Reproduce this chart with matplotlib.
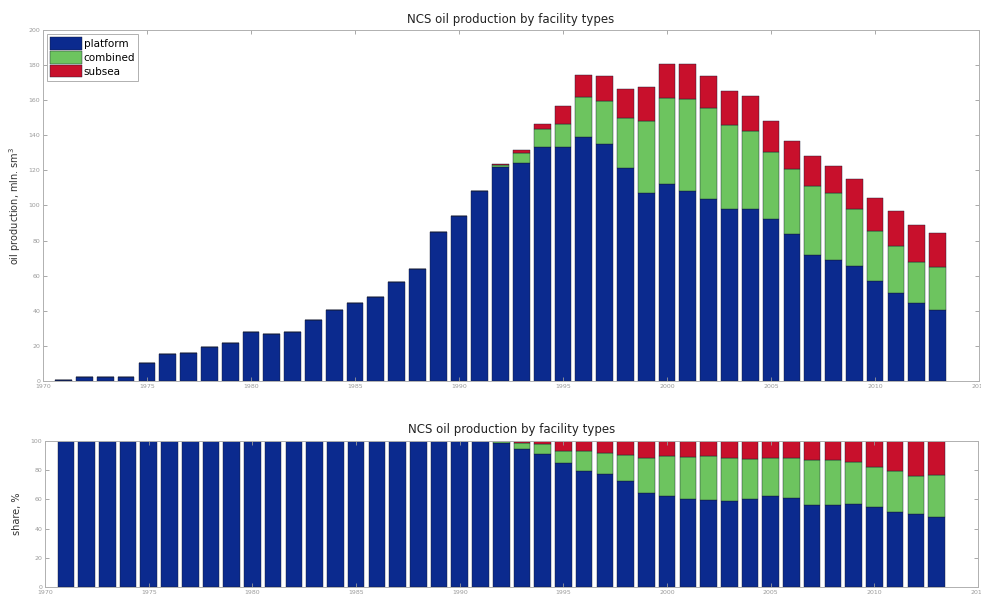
import numpy as np
import matplotlib
matplotlib.use("Agg")
from matplotlib import pyplot as plt

years = np.arange(1971, 2014)

# oil production, mln. sm3, by facility type
platform = [0.6, 2.0, 2.0, 2.0, 10.1, 15.4, 15.8, 19.5, 21.6, 27.7,
            26.8, 27.7, 34.8, 40.5, 44.3, 48.0, 56.4, 64.0, 85.1, 93.8,
            108.1, 122.1, 124.4, 133.5, 133.5, 139.2, 134.9, 121.2, 107.3, 112.3,
            108.3, 103.9, 97.8, 97.8, 92.1, 83.6, 71.6, 68.9, 65.5, 57.1,
            50.0, 44.3, 40.5]
combined = [0, 0, 0, 0, 0, 0, 0, 0, 0, 0,
            0, 0, 0, 0, 0, 0, 0, 0, 0, 0,
            0, 1.0, 5.7, 9.9, 12.8, 22.8, 24.5, 28.8, 40.8, 49.1,
            52.2, 51.8, 48.1, 44.7, 38.6, 37.0, 39.7, 38.0, 32.7, 28.4,
            26.9, 23.7, 24.3]
subsea = [0, 0, 0, 0, 0, 0, 0, 0, 0, 0,
          0, 0, 0, 0, 0, 0, 0, 0, 0, 0,
          0, 0.4, 1.5, 2.9, 10.4, 12.5, 14.6, 16.4, 19.2, 19.1,
          20.1, 18.3, 19.5, 20.1, 17.6, 16.0, 16.9, 15.8, 16.7, 18.8,
          20.1, 21.1, 19.7]

names = ["platform", "combined", "subsea"]
colors = ["#0b2a8e", "#6dc45f", "#c8102c"]

p = np.array(platform)
c = np.array(combined)
s = np.array(subsea)
tot = p + c + s
shares = [100 * p / tot, 100 * c / tot, 100 * s / tot]

fig = plt.figure(figsize=(9.81, 5.95), dpi=100)
ax1 = fig.add_axes([0.0438, 0.3597, 0.9542, 0.5899])
ax2 = fig.add_axes([0.046, 0.0134, 0.951, 0.2454])

def style(ax):
    ax.set_xlim(1970, 2015)
    ax.set_xticks(np.arange(1970, 2016, 5))
    ax.tick_params(direction="in", top=True, right=True, length=3,
                   width=0.6, colors="#9a9a9a", labelsize=4.5, pad=2)
    for sp in ax.spines.values():
        sp.set_color("#b0b0b0")
        sp.set_linewidth(0.7)

bottom = np.zeros(len(years))
for vals, name, col in zip([p, c, s], names, colors):
    ax1.bar(years, vals, width=0.8, bottom=bottom, color=col,
            edgecolor="#141a30", linewidth=0.3, label=name)
    bottom += vals
style(ax1)
ax1.set_ylim(0, 200)
ax1.set_yticks(np.arange(0, 201, 20))
ax1.set_title("NCS oil production by facility types", fontsize=8.5,
              color="#222222", pad=5)
ax1.set_ylabel("oil production, mln. sm$^3$", fontsize=7, color="#333333",
               labelpad=4)
leg = ax1.legend(loc="upper left", fontsize=7.5, handlelength=3.0,
                 handleheight=1.5, handletextpad=0.2, borderpad=0.3,
                 labelspacing=0.1, fancybox=False, framealpha=1,
                 borderaxespad=0.4)
leg.get_frame().set_edgecolor("#b0b0b0")
leg.get_frame().set_linewidth(0.7)

bottom = np.zeros(len(years))
for vals, col in zip(shares, colors):
    ax2.bar(years, vals, width=0.8, bottom=bottom, color=col,
            edgecolor="#141a30", linewidth=0.3)
    bottom += vals
style(ax2)
ax2.set_ylim(0, 100)
ax2.set_yticks(np.arange(0, 101, 20))
ax2.set_title("NCS oil production by facility types", fontsize=8.5,
              color="#222222", pad=6)
ax2.set_ylabel("share, %", fontsize=7, color="#333333", labelpad=6)

fig.savefig("out.png", dpi=100)
